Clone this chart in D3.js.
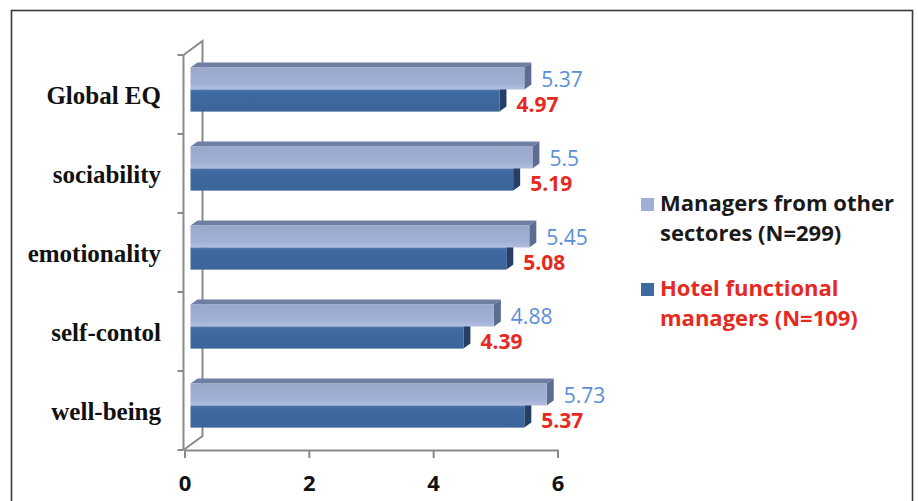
<!DOCTYPE html>
<html>
<head>
<meta charset="utf-8">
<script src="https://cdn.jsdelivr.net/npm/d3@7"></script>
<style>
  html, body { margin: 0; padding: 0; background: #fff; }
  svg { display: block; }
</style>
</head>
<body>
<svg id="chart" width="918" height="501"></svg>
<script>
// Emotional intelligence scores by dimension
const categories = ["Global EQ", "sociability", "emotionality", "self-contol", "well-being"];
const otherSectors = [5.37, 5.5, 5.45, 4.88, 5.73];   // Managers from other sectores (N=299)
const hotelManagers = [4.97, 5.19, 5.08, 4.39, 5.37]; // Hotel functional managers (N=109)
const xTicks = [0, 2, 4, 6];
const legendLines = [["Managers from other", "sectores (N=299)"], ["Hotel functional", "managers (N=109)"]];

const svg = d3.select("#chart");

// outer frame
svg.append("rect")
  .attr("x", 11.5).attr("y", 10.5)
  .attr("width", 901).attr("height", 520)
  .attr("fill", "#fff")
  .attr("stroke", "#3a3a3a").attr("stroke-width", 1.6);

const x = d3.scaleLinear().domain([0, 6]).range([184.5, 557.5]);
const y = d3.scaleBand().domain(categories).range([55, 450])
  .paddingInner(0.44).paddingOuter(0.22);
const ySeries = d3.scaleBand().domain([0, 1]).range([0, y.bandwidth()]);

// 3D geometry
const wall = { dx: 19, dy: -14 };     // depth of the chart box
const shift = { dx: 6, dy: -5 };      // bars sit slightly behind the front plane
const depth = { dx: 7, dy: -5 };      // bar thickness

const axisColor = "#8a8a8a";
const floorY = 450;
const g = svg.append("g");

// back wall edge and side edges
const x0 = x(0) - 1;
g.append("path")
  .attr("d", `M${x0},55 L${x0 + wall.dx},${55 + wall.dy} L${x0 + wall.dx},${floorY + wall.dy} L${x0},${floorY}`)
  .attr("fill", "none").attr("stroke", axisColor).attr("stroke-width", 2);

// front vertical axis with category boundary ticks
g.append("line")
  .attr("x1", x0).attr("x2", x0).attr("y1", 55).attr("y2", floorY)
  .attr("stroke", axisColor).attr("stroke-width", 2);
const bounds = categories.map(c => y(c) - y.step() * y.paddingInner() / 2).concat([450]);
bounds[0] = 55;
g.selectAll(".ytick").data(bounds).join("line")
  .attr("x1", x0 - 6).attr("x2", x0)
  .attr("y1", d => d).attr("y2", d => d)
  .attr("stroke", axisColor).attr("stroke-width", 2);

// bottom axis
const xAxis = d3.axisBottom(x).tickValues(xTicks).tickSize(8).tickFormat(d3.format("d"));
const ax = svg.append("g").attr("transform", `translate(0,${floorY})`).call(xAxis);
ax.select(".domain").attr("stroke", axisColor).attr("stroke-width", 2);
ax.selectAll(".tick line").attr("stroke", axisColor).attr("stroke-width", 2);
ax.selectAll(".tick text")
  .attr("fill", "#111").attr("font-family", "'Open Sans', sans-serif")
  .attr("font-weight", 700).attr("font-size", 22)
  .attr("y", 41).attr("dy", 0);

// category labels
svg.append("g").selectAll("text").data(categories).join("text")
  .attr("x", 161)
  .attr("y", d => y(d) + y.bandwidth() / 2 + 9)
  .attr("text-anchor", "end")
  .attr("font-family", "'Liberation Serif', 'Times New Roman', serif")
  .attr("font-weight", 700).attr("font-size", 25).attr("fill", "#111")
  .text(d => d);

// gradients for bar faces
const defs = svg.append("defs");
function grad(id, stops) {
  const lg = defs.append("linearGradient").attr("id", id)
    .attr("x1", 0).attr("y1", 0).attr("x2", 0).attr("y2", 1);
  stops.forEach(s => lg.append("stop").attr("offset", s[0]).attr("stop-color", s[1]));
}
grad("lightFront", [[0, "#9aa8cc"], [0.7, "#a0afd4"], [1, "#b2bfe0"]]);
grad("darkFront", [[0, "#4a76ab"], [0.15, "#3f6aa1"], [1, "#3a649a"]]);

const styles = [
  { front: "url(#lightFront)", top: "#6f7fa3", side: "#5d6c90", label: "#5b8fd6", weight: 400, nudge: -1 },
  { front: "url(#darkFront)", top: "#2e5282", side: "#263f66", label: "#e52a1f", weight: 700, nudge: 1 }
];

const rows = categories.map((c, i) => ({ cat: c, vals: [otherSectors[i], hotelManagers[i]] }));

const bars = svg.append("g");
rows.forEach(r => {
  // lower (dark) bar first so the upper bar covers its top face
  [1, 0].forEach(s => {
    const st = styles[s];
    const v = r.vals[s];
    const xa = x(0) + shift.dx, xb = x(v) + shift.dx;
    const ya = y(r.cat) + ySeries(s) + shift.dy, h = ySeries.bandwidth();
    const bg = bars.append("g");
    bg.append("path")
      .attr("d", `M${xa},${ya} L${xa + depth.dx},${ya + depth.dy} L${xb + depth.dx},${ya + depth.dy} L${xb},${ya} Z`)
      .attr("fill", st.top);
    bg.append("path")
      .attr("d", `M${xb},${ya} L${xb + depth.dx},${ya + depth.dy} L${xb + depth.dx},${ya + h + depth.dy} L${xb},${ya + h} Z`)
      .attr("fill", st.side);
    bg.append("rect")
      .attr("x", xa).attr("y", ya).attr("width", xb - xa).attr("height", h)
      .attr("fill", st.front);
  });
});

// value labels
rows.forEach(r => {
  [0, 1].forEach(s => {
    const st = styles[s];
    const v = r.vals[s];
    svg.append("text")
      .attr("x", x(v) + shift.dx + 17)
      .attr("y", y(r.cat) + ySeries(s) + shift.dy + ySeries.bandwidth() / 2 + 10 + st.nudge)
      .attr("font-family", "'Open Sans', sans-serif")
      .attr("font-size", 21).attr("font-weight", st.weight)
      .attr("fill", st.label)
      .text(d3.format("")(v));
  });
});

// legend
const legend = svg.append("g");
const legendTop = [198, 283];
const swatch = ["#9fb0d6", "#3f6aa0"];
const legendText = ["#1a1a1a", "#e52a1f"];
legendLines.forEach((lines, i) => {
  const lg = legend.append("g");
  lg.append("rect").attr("x", 641).attr("y", legendTop[i]).attr("width", 13).attr("height", 13)
    .attr("fill", swatch[i]);
  const t = lg.append("text")
    .attr("font-family", "'Open Sans', sans-serif")
    .attr("font-size", 22).attr("font-weight", 700)
    .attr("fill", legendText[i]);
  lines.forEach((ln, j) => {
    t.append("tspan").attr("x", 660).attr("y", legendTop[i] + 13 + j * 30).text(ln);
  });
});
</script>
</body>
</html>
